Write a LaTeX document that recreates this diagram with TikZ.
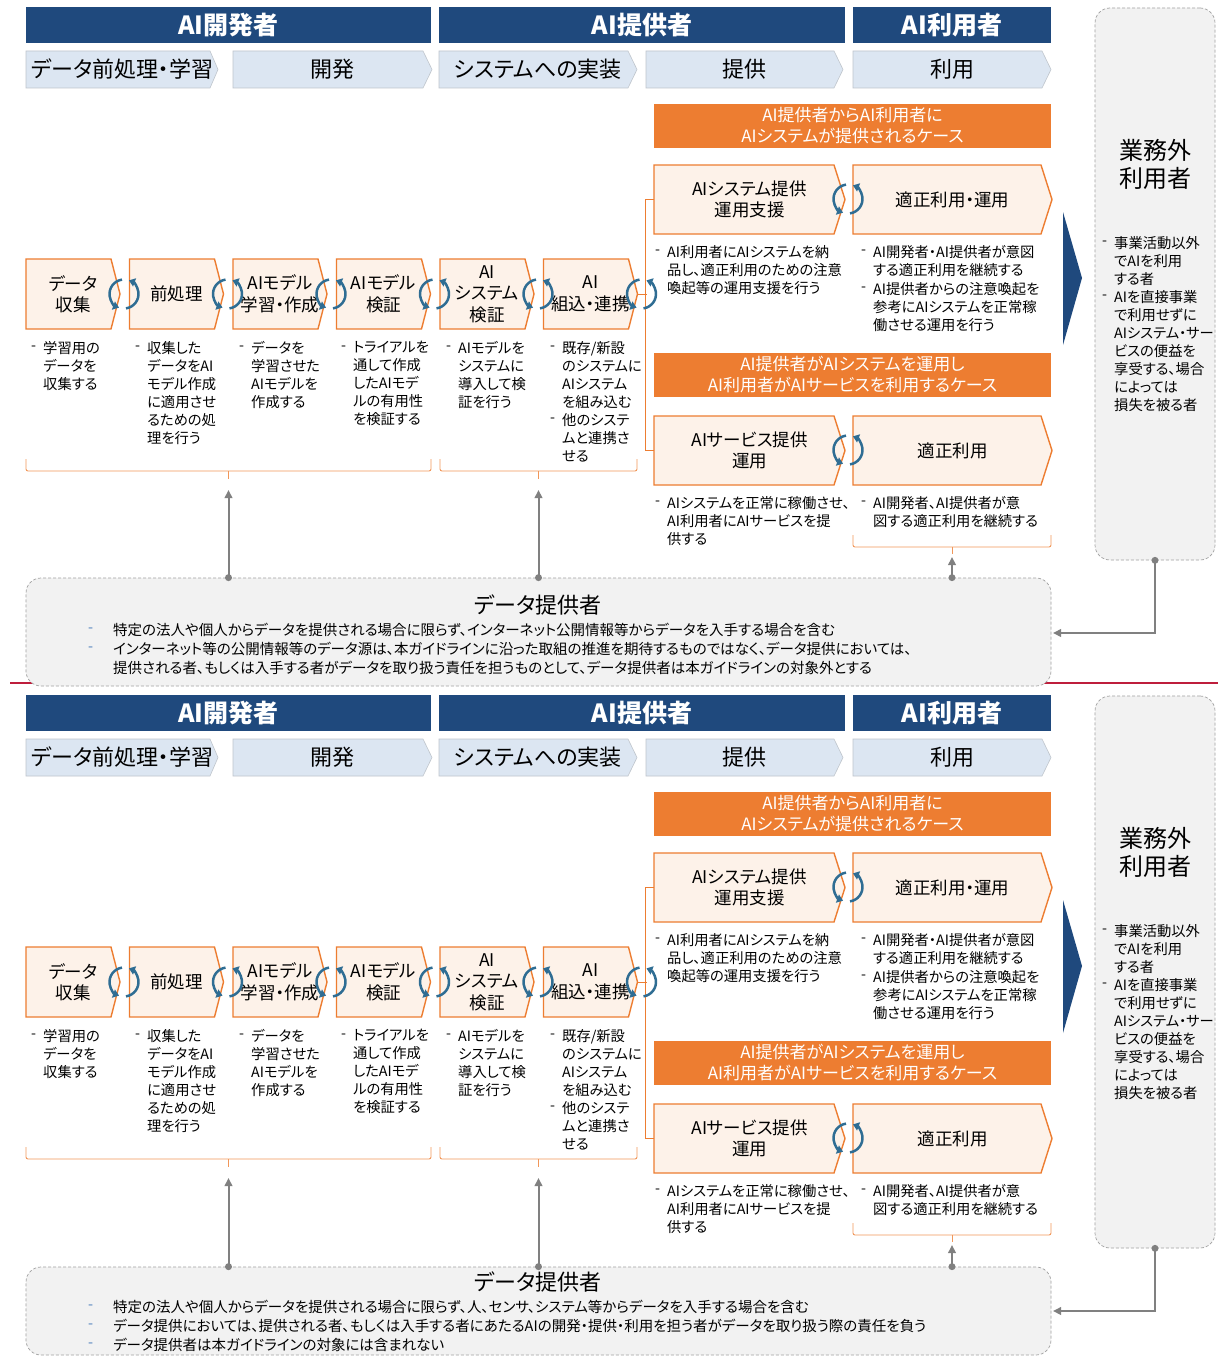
\documentclass[tikz,border=0pt]{standalone}
\usepackage{fontspec}
\setmainfont{Noto Sans CJK JP}[CharacterWidth=AlternateProportional]
\usetikzlibrary{arrows.meta,calc}
\definecolor{hdrblue}{HTML}{1F497D}
\definecolor{phasefill}{HTML}{DCE6F2}
\definecolor{phaseline}{HTML}{BFC5CC}
\definecolor{orng}{HTML}{ED7D31}
\definecolor{peach}{HTML}{FDF2E9}
\definecolor{boxgray}{HTML}{F2F2F2}
\definecolor{dashgray}{HTML}{A0A0A0}
\definecolor{cycblue}{HTML}{2F6D93}
\definecolor{arrgray}{HTML}{808080}
\definecolor{sepred}{HTML}{BE1E3C}
\definecolor{bulletblue}{HTML}{4F81BD}
\tikzset{
 hdr/.style={fill=hdrblue, text=white, font=\fontsize{25}{28}\selectfont\bfseries, inner sep=0},
 phase/.style={fill=phasefill, draw=phaseline, line width=0.6pt},
 phtxt/.style={font=\fontsize{22}{26}\selectfont, inner sep=0},
 proc/.style={fill=peach, draw=orng, line width=1.4pt, line join=miter},
 ptxt/.style={font=\fontsize{17.5}{21.5}\selectfont, align=center, inner sep=0},
 casehdr/.style={fill=orng, text=white, font=\fontsize{17}{21}\selectfont, align=center, inner sep=0},
 desc/.style={anchor=north west, align=left, inner sep=0, font=\fontsize{14.3}{18}\selectfont},
 dashtxt/.style={anchor=west, inner sep=0, font=\fontsize{14.3}{18}\selectfont},
 cyc/.style={draw=cycblue, line width=2.5pt, -{Triangle[length=6pt,width=8.5pt]}},
 oline/.style={draw=orng, line width=1pt},
 brk/.style={draw=orng!80, line width=0.9pt, rounded corners=2pt},
 graybox/.style={fill=boxgray, draw=dashgray, densely dashed, line width=0.7pt, rounded corners=15pt, inner sep=0},
 garr/.style={draw=arrgray, line width=2pt, -{Triangle[length=8pt,width=7.5pt]}},
 gdot/.style={fill=arrgray},
 dptitle/.style={font=\fontsize{22}{26}\selectfont, inner sep=0},
 dpline/.style={anchor=west, inner sep=0, font=\fontsize{14.5}{18}\selectfont},
 dpdash/.style={anchor=west, inner sep=0, text=bulletblue, font=\fontsize{14.5}{18}\selectfont},
 gtitle/.style={font=\fontsize{24}{28}\selectfont, align=center, inner sep=0},
}
% chevron: name, x1, y1, x2, y2, depth, shape style, text style, text
\newcommand\chev[9]{%
 \path[#7] (#2,#3) -- ({#4-#6},#3) -- (#4,{(#3+#5)/2}) -- ({#4-#6},#5) -- (#2,#5) -- cycle;
 \node[#8, minimum width={#4-#2}, minimum height={#5-#3}] (#1) at ({(#2+#4)/2},{(#3+#5)/2}) {#9};}
% bullet: name, x, y(first line centre), text
\newcommand\bul[4]{%
 \node[dashtxt] (#1d) at (#2,#3) {-};
 \node[desc] (#1) at ({#2+12},{#3-7}) {#4};}
% cycle icon: x, y
\newcommand\cycicon[2]{%
 \draw[cyc] (#1,#2) ++(98:14.5pt) arc[start angle=98, end angle=250, radius=14.5pt];
 \draw[cyc] (#1,#2) ++(278:14.5pt) arc[start angle=278, end angle=430, radius=14.5pt];}
% panel: prefix, y offset
\newcommand\panel[2]{%
\begin{scope}[shift={(0,#2)}]
 \node[hdr, minimum width=405, minimum height=36] (#1h1) at (228.5,25) {AI開発者};
 \node[hdr, minimum width=406, minimum height=36] (#1h2) at (642,25) {AI提供者};
 \node[hdr, minimum width=198, minimum height=36] (#1h3) at (952,25) {AI利用者};
 \chev{#1ph1}{26}{51}{218}{88}{8}{phase}{phtxt}{データ前処理・学習}
 \chev{#1ph2}{233}{51}{432}{88}{9}{phase}{phtxt}{開発}
 \chev{#1ph3}{439}{51}{637}{88}{9}{phase}{phtxt}{システムへの実装}
 \chev{#1ph4}{646}{51}{843}{88}{9}{phase}{phtxt}{提供}
 \chev{#1ph5}{853}{51}{1051}{88}{9}{phase}{phtxt}{利用}
 \node[casehdr, minimum width=397, minimum height=44] (#1c1) at (852.5,126) {AI提供者からAI利用者に\\AIシステムが提供されるケース};
 \node[casehdr, minimum width=397, minimum height=44] (#1c2) at (852.5,375) {AI提供者がAIシステムを運用し\\AI利用者がAIサービスを利用するケース};
 \chev{#1ra}{654}{165}{845}{234}{11}{proc}{ptxt}{AIシステム提供\\運用支援}
 \chev{#1rb}{853}{165}{1052}{234}{11}{proc}{ptxt}{適正利用・運用}
 \chev{#1rc}{654}{416}{845}{485}{11}{proc}{ptxt}{AIサービス提供\\運用}
 \chev{#1rd}{853}{416}{1052}{485}{11}{proc}{ptxt}{適正利用}
 \chev{#1p1}{26}{259}{120}{329}{9}{proc}{ptxt}{データ\\収集}
 \chev{#1p2}{129.5}{259}{223.5}{329}{9}{proc}{ptxt}{前処理}
 \chev{#1p3}{233}{259}{327}{329}{9}{proc}{ptxt}{AIモデル\\学習・作成}
 \chev{#1p4}{336.5}{259}{430.5}{329}{9}{proc}{ptxt}{AIモデル\\検証}
 \chev{#1p5}{440}{259}{534}{329}{9}{proc}{ptxt}{AI\\システム\\検証}
 \chev{#1p6}{543.5}{259}{637.5}{329}{9}{proc}{ptxt}{AI\\組込・連携}
 \draw[oline] (#1p6.east) -- ++(9,0);
 \draw[oline] (#1ra.west) -- ++(-8,0) |- (#1rc.west);
 \cycicon{124}{294}\cycicon{227.5}{294}\cycicon{331}{294}
 \cycicon{434.5}{294}\cycicon{538}{294}\cycicon{641.5}{294}
 \cycicon{848}{199}\cycicon{848}{450}
 \bul{#1d1}{31}{348}{学習用の\\データを\\収集する}
 \bul{#1d2}{135}{348}{収集した\\データをAI\\モデル作成\\に適用させ\\るための処\\理を行う}
 \bul{#1d3}{239}{348}{データを\\学習させた\\AIモデルを\\作成する}
 \bul{#1d4}{341}{348}{トライアルを\\通して作成\\したAIモデ\\ルの有用性\\を検証する}
 \bul{#1d5}{446}{348}{AIモデルを\\システムに\\導入して検\\証を行う}
 \bul{#1d6}{550}{348}{既存/新設\\のシステムに\\AIシステム\\を組み込む}
 \bul{#1d7}{550}{420}{他のシステ\\ムと連携さ\\せる}
 \bul{#1da}{655}{252}{AI利用者にAIシステムを納\\品し、適正利用のための注意\\喚起等の運用支援を行う}
 \bul{#1db}{861}{252}{AI開発者・AI提供者が意図\\する適正利用を継続する}
 \bul{#1dc}{861}{289}{AI提供者からの注意喚起を\\参考にAIシステムを正常稼\\働させる運用を行う}
 \bul{#1dd}{655}{503}{AIシステムを正常に稼働させ、\\AI利用者にAIサービスを提\\供する}
 \bul{#1de}{861}{503}{AI開発者、AI提供者が意\\図する適正利用を継続する}
 \draw[brk] (26,459) -- (26,471) -- (431,471) -- (431,459);
 \draw[brk] (228.5,471) -- (228.5,479) coordinate (#1k1);
 \draw[brk] (440,459) -- (440,471) -- (637,471) -- (637,459);
 \draw[brk] (538.5,471) -- (538.5,479) coordinate (#1k2);
 \draw[brk] (853,535) -- (853,547) -- (1051,547) -- (1051,535);
 \draw[brk] (952,547) -- (952,554) coordinate (#1k3);
 \fill[hdrblue] (1063,212) -- (1082,278) -- (1063,345) -- cycle;
 \node[graybox, minimum width=120, minimum height=552] (#1g) at (1155,284) {};
 \node[gtitle] (#1gt) at (1155,164) {業務外\\利用者};
 \bul{#1g1}{1102}{243}{事業活動以外\\でAIを利用\\する者}
 \bul{#1g2}{1102}{297}{AIを直接事業\\で利用せずに\\AIシステム・サー\\ビスの便益を\\享受する、場合\\によっては\\損失を被る者}
\end{scope}}

\begin{document}
\begin{tikzpicture}[x=1pt,y=-1pt]
\useasboundingbox (0,0) rectangle (1223,1370);
\fill[white] (0,0) rectangle (1223,1370);
\panel{t}{0}
\panel{b}{688}
\draw[sepred, line width=2pt] (10,683) -- (1218,683);
% top data provider
\node[graybox, minimum width=1025, minimum height=108] (dpA) at (538.5,632) {};
\node[dptitle] (dpAt) at (538,605) {データ提供者};
\node[dpdash] (dpA1d) at (88,630) {-};
\node[dpline] (dpA1) at (113,630) {特定の法人や個人からデータを提供される場合に限らず、インターネット公開情報等からデータを入手する場合を含む};
\node[dpdash] (dpA2d) at (88,649) {-};
\node[dpline] (dpA2) at (113,649) {インターネット等の公開情報等のデータ源は、本ガイドラインに沿った取組の推進を期待するものではなく、データ提供においては、};
\node[dpline] (dpA3) at (113,668) {提供される者、もしくは入手する者がデータを取り扱う責任を担うものとして、データ提供者は本ガイドラインの対象外とする};
% bottom data provider
\node[graybox, minimum width=1025, minimum height=88] (dpB) at (538.5,1311) {};
\node[dptitle] (dpBt) at (538,1282) {データ提供者};
\node[dpdash] (dpB1d) at (88,1307) {-};
\node[dpline] (dpB1) at (113,1307) {特定の法人や個人からデータを提供される場合に限らず、人、センサ、システム等からデータを入手する場合を含む};
\node[dpdash] (dpB2d) at (88,1326) {-};
\node[dpline] (dpB2) at (113,1326) {データ提供においては、提供される者、もしくは入手する者にあたるAIの開発・提供・利用を担う者がデータを取り扱う際の責任を負う};
\node[dpdash] (dpB3d) at (88,1345) {-};
\node[dpline] (dpB3) at (113,1345) {データ提供者は本ガイドラインの対象には含まれない};
% arrows
\foreach \p/\d in {t/dpA, b/dpB}{
 \draw[garr, shorten >=11pt] (\d.north -| \p k1) -- (\p k1);
 \draw[garr, shorten >=11pt] (\d.north -| \p k2) -- (\p k2);
 \draw[garr, shorten >=3pt] (\d.north -| \p k3) -- (\p k3);
 \fill[gdot] (\d.north -| \p k1) circle[radius=3.5pt];
 \fill[gdot] (\d.north -| \p k2) circle[radius=3.5pt];
 \fill[gdot] (\d.north -| \p k3) circle[radius=3.5pt];
}
\coordinate (tEnd) at (1053,633);
\coordinate (bEnd) at (1053,1311);
\draw[garr, line width=2.4pt] (tg.south) |- (tEnd);
\draw[garr, line width=2.4pt] (bg.south) |- (bEnd);
\fill[gdot] (tg.south) circle[radius=3.5pt];
\fill[gdot] (bg.south) circle[radius=3.5pt];
\end{tikzpicture}
\end{document}
